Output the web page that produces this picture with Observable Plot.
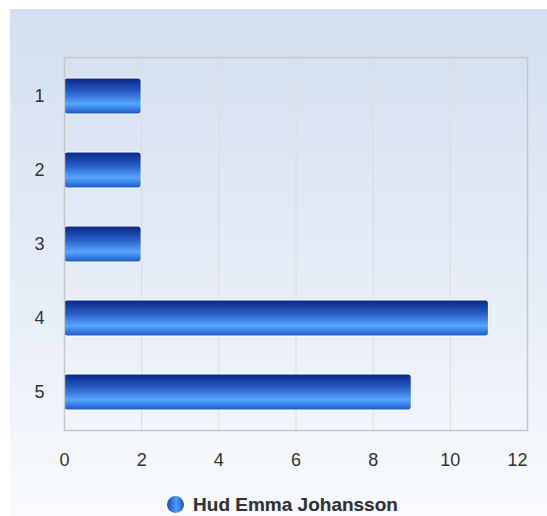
<!DOCTYPE html>
<html>
<head>
<meta charset="utf-8">
<script src="https://cdn.jsdelivr.net/npm/d3@7"></script>
<script src="https://cdn.jsdelivr.net/npm/@observablehq/plot@0.6"></script>
<style>
  html, body { margin: 0; padding: 0; background: #ffffff; }
  #wrap {
    position: absolute; left: 10px; top: 9px; width: 537px; height: 507px;
    background: linear-gradient(to bottom, #d3dff0 0%, #e6edf7 55%, #f9fbfe 100%);
    font-family: "Liberation Sans", Arial, sans-serif;
  }
  #legend {
    position: absolute; left: 4px; width: 537px; top: 486px; text-align: center;
    font: bold 19px "Liberation Sans", Arial, sans-serif; color: #333;
    text-shadow: 0 0 1px rgba(0,0,0,0.2);
    line-height: 20px; white-space: nowrap;
  }
  #legend .dot {
    display: inline-block; width: 17px; height: 17px; border-radius: 50%;
    background: linear-gradient(to right, #1648b8 0%, #4d9cf8 55%, #1a52c4 100%);
    vertical-align: -2px; margin-right: 9px;
  }
</style>
</head>
<body>
<div id="wrap"></div>
<script>
const categories = ["1", "2", "3", "4", "5"];
const values = [2, 2, 2, 11, 9];
const xTicks = [0, 2, 4, 6, 8, 10, 12];
const seriesName = "Hud Emma Johansson";

const data = categories.map((c, i) => ({category: c, value: values[i]}));

const chart = Plot.plot({
  width: 537,
  height: 470,
  marginLeft: 54,
  marginRight: 20,
  marginTop: 48,
  marginBottom: 49,
  style: {background: "transparent", fontFamily: "Liberation Sans, Arial, sans-serif", fontSize: "18px", color: "#333"},
  x: {domain: [0, 12], label: null},
  y: {domain: categories, paddingInner: 0.52, paddingOuter: 0.26, tickSize: 0, tickPadding: 20, label: null},
  marks: [
    Plot.gridX(xTicks, {stroke: "#dcdcdc", strokeOpacity: 1}),
    Plot.axisX(xTicks.slice(0, -1), {tickSize: 0, tickPadding: 23, label: null}),
    Plot.axisX(xTicks.slice(-1), {tickSize: 0, tickPadding: 23, label: null, dx: -10}),
    Plot.barX(data, {x: "value", y: "category", fill: "url(#barGrad)", stroke: "#ffffff", strokeWidth: 1, rx: 3}),
    Plot.frame({stroke: "#c6c6c6", strokeWidth: 1.5})
  ]
});

const svgNS = "http://www.w3.org/2000/svg";
const defs = document.createElementNS(svgNS, "defs");
const grad = document.createElementNS(svgNS, "linearGradient");
grad.setAttribute("id", "barGrad");
grad.setAttribute("x1", "0"); grad.setAttribute("y1", "0");
grad.setAttribute("x2", "0"); grad.setAttribute("y2", "1");
[["0", "#0a2784"], ["0.35", "#2458c2"], ["0.72", "#56a6ff"], ["1", "#1a56c6"]].forEach(([o, c]) => {
  const s = document.createElementNS(svgNS, "stop");
  s.setAttribute("offset", o);
  s.setAttribute("stop-color", c);
  grad.appendChild(s);
});
defs.appendChild(grad);
chart.insertBefore(defs, chart.firstChild);
chart.style.position = "absolute";
chart.style.left = "0px";
chart.style.top = "0px";

const wrap = document.getElementById("wrap");
wrap.appendChild(chart);
const legend = document.createElement("div");
legend.id = "legend";
legend.innerHTML = '<span class="dot"></span>';
legend.appendChild(document.createTextNode(seriesName));
wrap.appendChild(legend);
</script>
</body>
</html>
